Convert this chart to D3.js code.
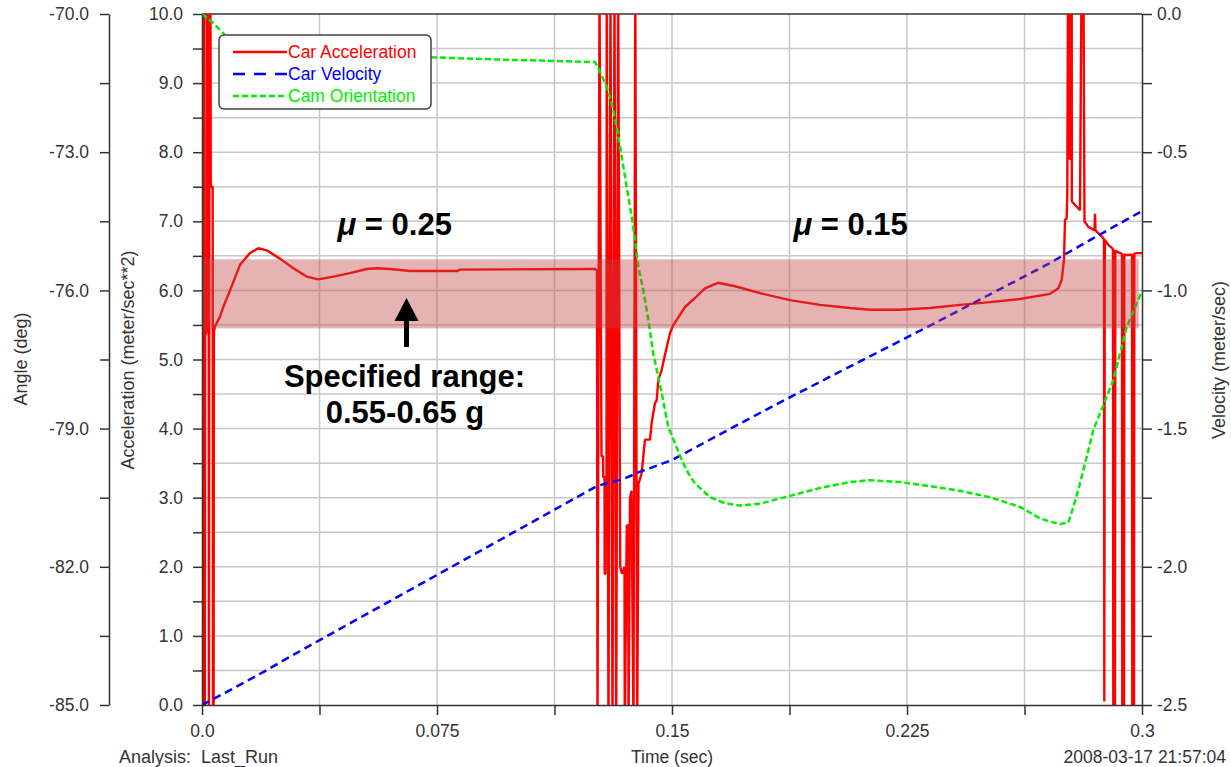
<!DOCTYPE html>
<html>
<head>
<meta charset="utf-8">
<script src="https://cdn.jsdelivr.net/npm/d3@7"></script>
<style>
  html, body { margin: 0; padding: 0; background: #fff; }
  svg { display: block; font-family: "Liberation Sans", Arial, sans-serif; }
</style>
</head>
<body>
<svg id="chart" width="1231" height="767"></svg>
<script>
// ---------------- DATA ----------------
const seriesNames = ["Car Acceleration", "Car Velocity", "Cam Orientation"];

// Car Acceleration (m/s^2) – left inner axis
const timeAcc = [
  0.0000, 0.0001, 0.0006, 0.0007, 0.0009, 0.0010, 0.0014, 0.0015, 0.0021, 0.0022,
  0.0024, 0.0027, 0.0028, 0.0034, 0.0035, 0.0037, 0.0038,
  0.00415, 0.00574, 0.0068, 0.00894, 0.01213, 0.01532, 0.01797, 0.02065, 0.02489, 0.02914,
  0.03342, 0.03712, 0.0419, 0.04723, 0.05256, 0.05576, 0.06, 0.06638, 0.08129, 0.08234,
  0.12383, 0.12543, 0.12606,
  0.12622, 0.12686, 0.1275, 0.12798, 0.12804, 0.12846, 0.12852, 0.12878, 0.12884, 0.1291,
  0.12916, 0.12973, 0.13037, 0.13101, 0.13165, 0.13219, 0.13283, 0.13347, 0.13404, 0.13484,
  0.13493, 0.13557, 0.13605, 0.13612, 0.1366, 0.13708, 0.13771, 0.13829, 0.13889, 0.13931,
  0.1403, 0.14084, 0.14138, 0.14298, 0.14351, 0.14457, 0.14511, 0.14564, 0.14671, 0.14776,
  0.14936, 0.15041, 0.15148, 0.15413, 0.15734, 0.16053, 0.16468, 0.17011, 0.17809, 0.18766,
  0.19723, 0.20681, 0.21319, 0.22277, 0.23234, 0.24192, 0.25149, 0.26107, 0.27064, 0.27329,
  0.27437, 0.27511, 0.27543, 0.27597, 0.27616, 0.27638, 0.27690, 0.27693, 0.27706, 0.27709,
  0.27757, 0.27760, 0.27776, 0.28021, 0.28069, 0.28133, 0.28165, 0.28287, 0.28484, 0.285,
  0.28516, 0.28714, 0.28787, 0.28797, 0.28813, 0.28925, 0.29074, 0.29084, 0.29138, 0.29148,
  0.29193, 0.29362, 0.29372, 0.29426, 0.29436, 0.29512, 0.29681, 0.29691, 0.29745, 0.29755,
  0.29831, 0.3
];
const accValues = [
  0.0, 10.4, 10.4, -0.4, -0.4, 5.35, 5.4, 10.4, 10.4, -0.4,
  10.4, 10.4, 7.5, 7.5, -0.4, -0.4, 5.4,
  5.48, 5.62, 5.76, 6.0, 6.37, 6.54, 6.61, 6.58, 6.46, 6.32,
  6.20, 6.16, 6.20, 6.25, 6.31, 6.32, 6.31, 6.28, 6.28, 6.30,
  6.31, 6.31, 6.29,
  -0.4, 10.4, 3.6, 3.6, 3.3, 3.3, 1.9, 1.9, 3.0, 3.0,
  10.4, -0.4, 10.4, -0.4, 10.4, -0.4, 10.4, 2.0, 1.9, 2.0,
  -0.4, 2.6, 2.6, -0.4, 3.0, 3.1, -0.4, 10.4, -0.4, 3.2,
  3.35, 3.59, 3.84, 3.84, 4.08, 4.37, 4.41, 4.70, 4.85, 5.07,
  5.38, 5.50, 5.57, 5.76, 5.89, 6.03, 6.11, 6.06, 5.96, 5.86,
  5.79, 5.745, 5.72, 5.72, 5.745, 5.79, 5.83, 5.875, 5.95, 6.03,
  6.15, 6.44, 7.02, 7.04, 7.45, 10.4, 10.4, 7.9, 7.9, 10.4,
  10.4, 7.3, 7.28, 7.16, 10.4, 10.4, 7.0, 6.92, 6.87, 7.11,
  6.87, 6.78, 6.74, 0.05, 6.73, 6.66, 6.6, -0.4, -0.4, 6.58,
  6.56, 6.53, -0.4, -0.4, 6.52, 6.51, 6.52, -0.4, -0.4, 6.53,
  6.54, 6.54
];

// Car Velocity (m/s) – right axis
const timeVel = [0, 0.01, 0.02, 0.03, 0.04, 0.05, 0.06, 0.07, 0.08, 0.09, 0.10, 0.11, 0.12, 0.126,
  0.135, 0.14, 0.15, 0.16, 0.17, 0.18, 0.19, 0.20, 0.21, 0.22, 0.23, 0.24, 0.25, 0.26, 0.27,
  0.28, 0.29, 0.30];
const velValues = [-2.5, -2.44, -2.378, -2.313, -2.25, -2.187, -2.124, -2.061, -1.998, -1.935,
  -1.872, -1.809, -1.746, -1.708, -1.68, -1.655, -1.614, -1.553, -1.492, -1.432, -1.373,
  -1.315, -1.257, -1.199, -1.141, -1.082, -1.023, -0.964, -0.905, -0.84, -0.776, -0.713];

// Cam Orientation (deg) – left outer axis
const timeCam = [0, 0.00319, 0.0068, 0.01053, 0.01532, 0.02489, 0.04723, 0.07309, 0.09511,
  0.12383, 0.12543, 0.12648, 0.12916, 0.13076, 0.13235, 0.13395, 0.13554, 0.13714, 0.13819,
  0.13925, 0.14084, 0.14244, 0.14403, 0.14671, 0.14882, 0.15096, 0.15310, 0.15520, 0.15734,
  0.16213, 0.16691, 0.1717, 0.17809, 0.18766, 0.19723, 0.20681, 0.21319, 0.22277, 0.23234,
  0.24192, 0.25149, 0.26107, 0.26745, 0.27064, 0.27383, 0.27648, 0.27808, 0.27967, 0.28076,
  0.28235, 0.28446, 0.2866, 0.28874, 0.29084, 0.29512, 0.2999, 0.3];
const camValues = [-70.0, -70.17, -70.42, -70.67, -70.82, -70.89, -70.92, -70.94, -70.99,
  -71.04, -71.04, -71.18, -71.58, -71.94, -72.45, -73.10, -73.75, -74.40, -74.91,
  -75.49, -75.99, -76.64, -77.37, -78.23, -78.96, -79.32, -79.68, -79.97, -80.19,
  -80.49, -80.62, -80.67, -80.63, -80.46, -80.29, -80.16, -80.12, -80.16, -80.25,
  -80.35, -80.49, -80.70, -80.95, -81.02, -81.07, -81.04, -80.70, -80.33, -80.04,
  -79.61, -79.03, -78.67, -78.31, -77.95, -76.79, -76.03, -75.99];

// Specified range band (m/s^2) and annotations
const bandRange = [5.45, 6.45];
const muLabels = [{ t: 0.0615, text: "0.25" }, { t: 0.207, text: "0.15" }];

// Tick values / labels
const timeTicks = [0, 0.0375, 0.075, 0.1125, 0.15, 0.1875, 0.225, 0.2625, 0.3];
const timeTickLabels = ["0.0", "", "0.075", "", "0.15", "", "0.225", "", "0.3"];
const accTicks = d3.range(0, 10.001, 0.5);
const angTicks = d3.range(-85, -69.999, 1.5);
const velTicks = d3.range(-2.5, 0.001, 0.25);

// ---------------- LAYOUT ----------------
const svg = d3.select("#chart");
const L = 202, R = 1142, T = 14, B = 705;
const x = d3.scaleLinear().domain([0, 0.3]).range([L, R]);
const yAcc = d3.scaleLinear().domain([0, 10]).range([B, T]);
const yAng = d3.scaleLinear().domain([-85, -70]).range([B, T]);
const yVel = d3.scaleLinear().domain([-2.5, 0]).range([B, T]);

const tickColor = "#333";
const fontSize = "17.5px";

svg.append("defs").append("clipPath").attr("id", "plotclip")
  .append("rect").attr("x", L).attr("y", T).attr("width", R - L).attr("height", B - T);

// gridlines
const grid = svg.append("g");
grid.selectAll("line.h").data(accTicks.filter(v => v > 0 && v < 10)).join("line")
  .attr("x1", L).attr("x2", R).attr("y1", d => yAcc(d)).attr("y2", d => yAcc(d))
  .attr("stroke", "#c8c8c8").attr("stroke-width", 1.5);
grid.selectAll("line.v").data(timeTicks.filter(v => v > 0 && v < 0.3)).join("line")
  .attr("y1", T).attr("y2", B).attr("x1", d => x(d)).attr("x2", d => x(d))
  .attr("stroke", "#c8c8c8").attr("stroke-width", 1.5);

// top frame
svg.append("line").attr("x1", L).attr("x2", R).attr("y1", T).attr("y2", T)
  .attr("stroke", tickColor).attr("stroke-width", 1.5);

// series
const plot = svg.append("g").attr("clip-path", "url(#plotclip)");
const lineAcc = d3.line().x(i => x(timeAcc[i])).y(i => yAcc(accValues[i]));
const lineVel = d3.line().x(i => x(timeVel[i])).y(i => yVel(velValues[i]));
const lineCam = d3.line().x(i => x(timeCam[i])).y(i => yAng(camValues[i]));

plot.append("path").attr("d", lineAcc(d3.range(timeAcc.length)))
  .attr("fill", "none").attr("stroke", "#ff0000").attr("stroke-width", 2.4)
  .attr("stroke-linejoin", "miter").attr("stroke-miterlimit", 1);
plot.append("path").attr("d", lineVel(d3.range(timeVel.length)))
  .attr("fill", "none").attr("stroke", "#0000ff").attr("stroke-width", 2.5)
  .attr("stroke-dasharray", "8,5");
plot.append("path").attr("d", lineCam(d3.range(timeCam.length)))
  .attr("fill", "none").attr("stroke", "#00ee00").attr("stroke-width", 2.5)
  .attr("stroke-dasharray", "6,3");

// shaded band
svg.append("rect")
  .attr("x", L).attr("width", x(0.299) - L)
  .attr("y", yAcc(bandRange[1])).attr("height", yAcc(bandRange[0]) - yAcc(bandRange[1]))
  .attr("fill", "rgb(192,64,64)").attr("fill-opacity", 0.4);

// axes
function styleAxis(g) {
  g.selectAll("path.domain").attr("stroke", tickColor).attr("stroke-width", 1.5);
  g.selectAll(".tick line").attr("stroke", tickColor).attr("stroke-width", 1.5);
  g.selectAll(".tick text").attr("fill", tickColor).style("font-size", fontSize)
    .style("font-family", "'Liberation Sans', Arial, sans-serif");
}
const accAxis = svg.append("g").attr("transform", `translate(${L},0)`)
  .call(d3.axisLeft(yAcc).tickValues(accTicks).tickSize(9).tickSizeOuter(0).tickPadding(10)
    .tickFormat(d => (Math.abs(d % 1) < 1e-9 ? d.toFixed(1) : "")));
styleAxis(accAxis);

const angAxis = svg.append("g").attr("transform", `translate(109,0)`)
  .call(d3.axisLeft(yAng).tickValues(angTicks).tickSize(9).tickSizeOuter(0).tickPadding(11)
    .tickFormat(d => (Math.abs((d + 85) % 3) < 1e-9 ? d.toFixed(1) : "")));
styleAxis(angAxis);

const velAxis = svg.append("g").attr("transform", `translate(${R},0)`)
  .call(d3.axisRight(yVel).tickValues(velTicks).tickSize(10).tickSizeOuter(0).tickPadding(5)
    .tickFormat(d => (Math.abs(d % 0.5) < 1e-9 ? d.toFixed(1) : "")));
styleAxis(velAxis);

const timeAxis = svg.append("g").attr("transform", `translate(0,${B})`)
  .call(d3.axisBottom(x).tickValues(timeTicks).tickSize(10).tickSizeOuter(0).tickPadding(10)
    .tickFormat((d, i) => timeTickLabels[i]));
styleAxis(timeAxis);

// axis titles
function vTitle(cx, cy, text) {
  svg.append("text").attr("transform", `translate(${cx},${cy}) rotate(-90)`)
    .attr("text-anchor", "middle").attr("dominant-baseline", "central")
    .attr("fill", tickColor).style("font-size", "18px").text(text);
}
vTitle(21, 359, "Angle (deg)");
vTitle(128, 360, "Acceleration (meter/sec**2)");
vTitle(1219, 360, "Velocity (meter/sec)");

svg.append("text").attr("x", 119).attr("y", 763).attr("fill", tickColor)
  .style("font-size", "18px").style("white-space", "pre").text("Analysis:  Last_Run");
svg.append("text").attr("x", x(0.15)).attr("y", 763).attr("text-anchor", "middle")
  .attr("fill", tickColor).style("font-size", fontSize).text("Time (sec)");
svg.append("text").attr("x", 1226).attr("y", 763).attr("text-anchor", "end")
  .attr("fill", tickColor).style("font-size", fontSize).text("2008-03-17 21:57:04");

// legend
const leg = svg.append("g");
leg.append("rect").attr("x", 219).attr("y", 35).attr("width", 212).attr("height", 74)
  .attr("rx", 5).attr("fill", "#fff").attr("stroke", "#444").attr("stroke-width", 1.5);
const legColors = ["#ff0000", "#0000ff", "#00ee00"];
const legDash = [null, "12,9", "6,3"];
seriesNames.forEach((name, i) => {
  const yy = 52 + i * 22;
  leg.append("line").attr("x1", 233).attr("x2", 287).attr("y1", yy).attr("y2", yy)
    .attr("stroke", legColors[i]).attr("stroke-width", 2.5)
    .attr("stroke-dasharray", legDash[i]);
  leg.append("text").attr("x", 288).attr("y", yy + 6).attr("fill", legColors[i])
    .style("font-size", "17.5px").text(name);
});

// annotations
muLabels.forEach(m => {
  const t = svg.append("text").attr("x", x(m.t)).attr("y", 235).attr("text-anchor", "middle")
    .style("font-size", "31px").style("font-weight", "bold").attr("fill", "#000");
  t.append("tspan").style("font-style", "italic").text("μ");
  t.append("tspan").text(" = " + m.text);
});

const ax = 406.5;
svg.append("path")
  .attr("d", `M${ax - 2.5},347 L${ax - 2.5},321 L${ax - 12},321 L${ax},298 L${ax + 12},321 L${ax + 2.5},321 L${ax + 2.5},347 Z`)
  .attr("fill", "#000");
svg.append("text").attr("x", 404.5).attr("y", 387).attr("text-anchor", "middle")
  .style("font-size", "31px").style("font-weight", "bold").text("Specified range:");
svg.append("text").attr("x", 405).attr("y", 423).attr("text-anchor", "middle")
  .style("font-size", "31px").style("font-weight", "bold").text("0.55-0.65 g");
</script>
</body>
</html>
